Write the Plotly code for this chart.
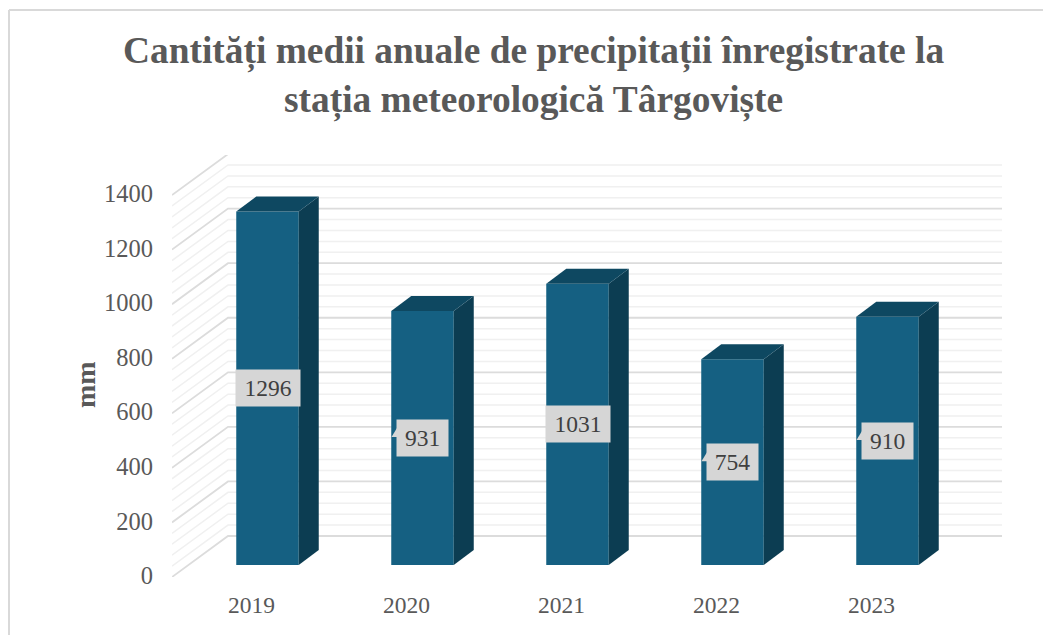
import plotly.graph_objects as go

years = ["2019", "2020", "2021", "2022", "2023"]
precip = [1296, 931, 1031, 754, 910]
y_ticks = [0, 200, 400, 600, 800, 1000, 1200, 1400]
minor_step = 40
title = "Cantități medii anuale de precipitații înregistrate la<br>stația meteorologică Târgoviște"

# Chart frame in pixels
W, H = 1043, 635
L, R, T, B = 172, 1002, 155, 577
PX_X = 155.0          # pixels per category
PX_Y = 0.2728         # pixels per unit
X0 = 267.5            # pixel centre of the first bar
xpx = lambda d: d / PX_X
ypx = lambda d: d / PX_Y

xr = [(L - X0) / PX_X, (R - X0) / PX_X]
yr = [0, (B - T) / PX_Y]

wall_dx, wall_dy = xpx(56), ypx(41)
base = ypx(12)
bar_w = xpx(62.5)
side_dx, side_dy = xpx(20), ypx(15)
label_shift = xpx(-16)
ylabel_shift = ypx(1.5)

FRONT, TOP, SIDE = "#156082", "#0e4861", "#0c3d52"
INK = "#595959"
SERIF = "Liberation Serif"

fig = go.Figure()
xs = list(range(len(years)))

shapes = []
v = 0
top_tick = y_ticks[-1]
while v <= top_tick:
    major = v in y_ticks
    path = (f"M {xr[0]} {v} L {xr[0] + wall_dx} {v + wall_dy} L {xr[1]} {v + wall_dy}")
    shapes.append(dict(type="path", path=path, xref="x", yref="y", layer="below",
                       line=dict(color="#dcdcdc" if major else "#f0f0f0", width=1.8 if major else 1.5)))
    v += minor_step

# Frame: left and top edges
fx = lambda px: (px - L) / (R - L)
fy = lambda py: (B - py) / (B - T)
shapes.append(dict(type="line", xref="paper", yref="paper", x0=fx(9), x1=fx(W), y0=fy(10), y1=fy(10),
                   line=dict(color="#d9d9d9", width=2)))
shapes.append(dict(type="line", xref="paper", yref="paper", x0=fx(9), x1=fx(9), y0=fy(10), y1=fy(H),
                   line=dict(color="#d9d9d9", width=2)))

fig.add_trace(go.Bar(x=xs, y=precip, base=[base] * len(xs), width=bar_w,
                     marker=dict(color=FRONT, line=dict(width=0)), hoverinfo="skip"))

for x, val in zip(xs, precip):
    x0, x1 = x - bar_w / 2, x + bar_w / 2
    t = base + val
    fig.add_trace(go.Scatter(x=[x1, x1 + side_dx, x1 + side_dx, x1, x1],
                             y=[base, base + side_dy, t + side_dy, t, base],
                             mode="lines", fill="toself", fillcolor=SIDE, line=dict(width=0), hoverinfo="skip"))
    fig.add_trace(go.Scatter(x=[x0, x0 + side_dx, x1 + side_dx, x1, x0],
                             y=[t, t + side_dy, t + side_dy, t, t],
                             mode="lines", fill="toself", fillcolor=TOP, line=dict(width=0), hoverinfo="skip"))

annotations = []
LABEL_BG = "#d6d6d6"
for x, val in zip(xs, precip):
    mid = base + val / 2
    wide = val >= 1000
    bw = xpx(64 if wide else 51)
    annotations.append(dict(x=x, y=mid, xref="x", yref="y", text=str(val), showarrow=False,
                            font=dict(family=SERIF, size=23.5, color="#404040"),
                            bgcolor=LABEL_BG, width=64 if wide else 51, height=36,
                            borderpad=0, xanchor="center", yanchor="middle"))
    if not wide:
        lx = x - bw / 2
        fig.add_trace(go.Scatter(x=[lx, lx - xpx(5.5), lx, lx],
                                 y=[mid + ypx(10), mid + ypx(1), mid + ypx(1), mid + ypx(10)],
                                 mode="lines", fill="toself", fillcolor=LABEL_BG, line=dict(width=0), hoverinfo="skip"))

annotations.append(dict(x=fx(85), y=fy(385), xref="paper", yref="paper", text="<b>mm</b>", textangle=-90,
                        showarrow=False, xanchor="center", yanchor="middle",
                        font=dict(family=SERIF, size=28, color=INK)))
annotations.append(dict(x=fx(533), y=fy(76), xref="paper", yref="paper", text=f"<b>{title}</b>",
                        showarrow=False, align="center", xanchor="center", yanchor="middle",
                        font=dict(family=SERIF, size=37.4, color=INK)))

fig.update_layout(
    width=W, height=H, margin=dict(l=L, r=W - R, t=T, b=H - B, autoexpand=False),
    paper_bgcolor="white", plot_bgcolor="white", showlegend=False, barmode="overlay",
    shapes=shapes, annotations=annotations,
    xaxis=dict(range=xr, tickmode="array", tickvals=[x + label_shift for x in xs], ticktext=years, automargin=False,
               showgrid=False, zeroline=False, showline=False, ticks="outside", ticklen=7, tickcolor="rgba(0,0,0,0)",
               tickfont=dict(family=SERIF, size=23.5, color=INK)),
    yaxis=dict(range=yr, tickmode="array", tickvals=[t + ylabel_shift for t in y_ticks], ticktext=[str(t) for t in y_ticks],
               automargin=False,
               showgrid=False, zeroline=False, showline=False, ticks="outside", ticklen=13, tickcolor="rgba(0,0,0,0)",
               tickfont=dict(family=SERIF, size=24.5, color=INK)),
)
fig.write_html("out.html", post_script="document.body.style.margin='0';", config=dict(displayModeBar=False))
